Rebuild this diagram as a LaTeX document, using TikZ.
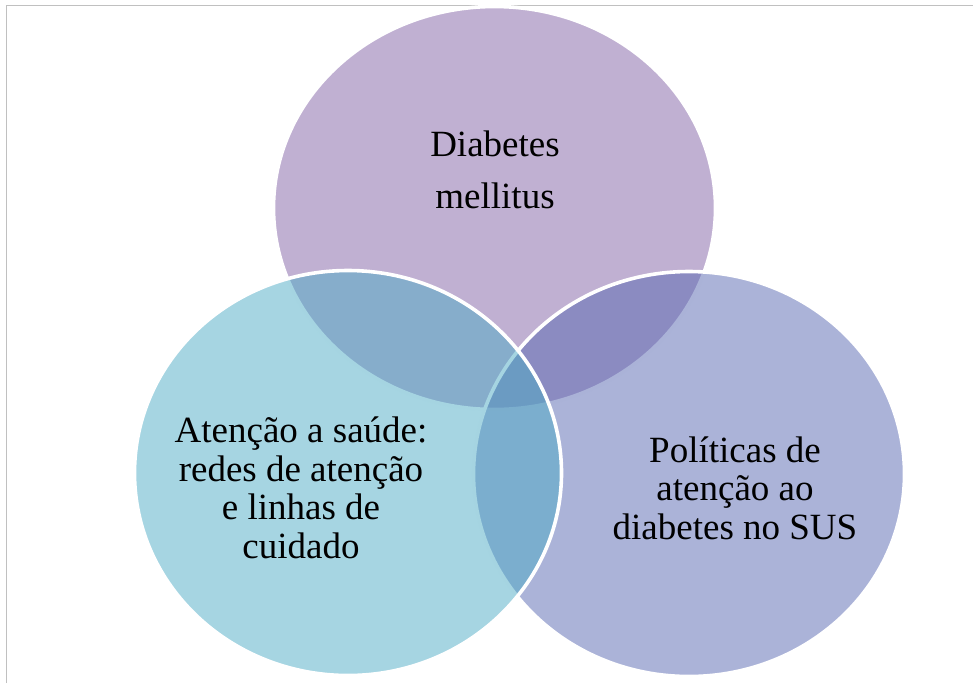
\documentclass[tikz,border=0pt]{standalone}
\usepackage{fontspec}
\setmainfont{Liberation Serif}
\usetikzlibrary{shapes.geometric}
\definecolor{topc}{RGB}{129,97,165}
\definecolor{leftc}{RGB}{77,171,197}
\definecolor{rightc}{RGB}{87,103,177}
\definecolor{framec}{RGB}{192,192,192}
\begin{document}
\begin{tikzpicture}[x=1pt,y=-1pt,
  venn/.style={ellipse, draw=white, line width=3.6pt, fill opacity=0.5, draw opacity=1, inner sep=0, outer sep=0},
  lbl/.style={align=center, inner sep=0, text=black}]
\useasboundingbox (0,0) rectangle (973,683);
\draw[framec, line width=1.5pt] (6.5,683) -- (6.5,5.5) -- (973,5.5);
\node[venn, fill=topc, minimum width=442pt, minimum height=403pt] (top) at (494.5,208) {};
\node[venn, fill=rightc, minimum width=431pt, minimum height=405pt] (right) at (689,474) {};
\node[venn, fill=leftc, minimum width=427pt, minimum height=405pt] (left) at (348,473) {};
\node[lbl, font=\fontsize{37}{52}\selectfont] (toplbl) at (495,170) {Diabetes\\mellitus};
\node[lbl, font=\fontsize{37}{38.5}\selectfont] (leftlbl) at (301,488) {Atenção a saúde:\\redes de atenção\\e linhas de\\cuidado};
\node[lbl, font=\fontsize{37}{38.5}\selectfont] (rightlbl) at (735,488) {Políticas de\\atenção ao\\diabetes no SUS};
\end{tikzpicture}
\end{document}
